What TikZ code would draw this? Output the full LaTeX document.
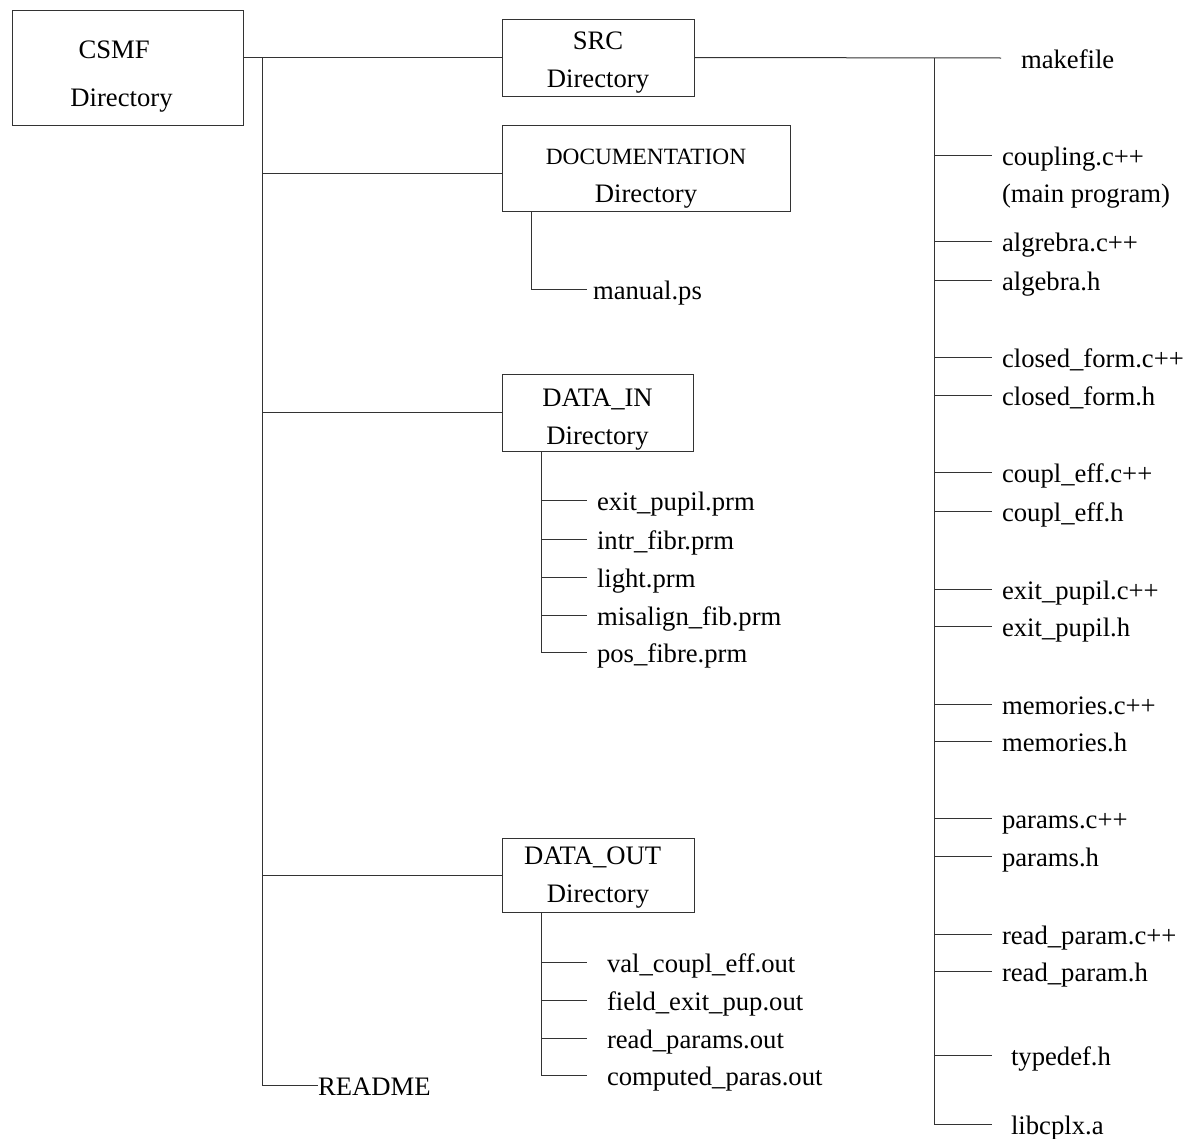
\documentclass[tikz,border=0pt]{standalone}
\usepackage{fontspec}
\setmainfont{Liberation Serif}
\usepackage{tikz}

\begin{document}
\begin{tikzpicture}[x=0.75pt,y=-0.75pt,line width=0.75pt,draw=black!80,
        dirbox/.style={draw,align=center,inner sep=0pt,outer sep=0pt,text depth=0pt,font=\fontsize{20}{28}\selectfont},
        file/.style={anchor=west,inner xsep=7.5pt,inner ysep=0pt,outer sep=0pt,text height=17.4pt,text depth=1.6pt,font=\fontsize{20}{24}\selectfont},
        farfile/.style={file,inner xsep=15pt}]
        \useasboundingbox (0,0) rectangle (1189,1139);

        \node[dirbox,text height=57.75pt,minimum width=173.25pt,minimum height=86.25pt] (csmf) at (127.5,67.5) {CSMF\hspace*{20pt}\\[8pt]Directory\hspace*{9pt}};
        \node[dirbox,text height=44.25pt,minimum width=144pt,minimum height=57.75pt] (src) at (598,57.5) {SRC\\Directory};
        \node[dirbox,text height=51pt,minimum width=216pt,minimum height=64.5pt] (doc) at (646,168) {{\fontsize{17.5}{20}\selectfont DOCUMENTATION}\\Directory};
        \node[dirbox,text height=47.25pt,minimum width=143.25pt,minimum height=57.75pt] (datain) at (597.5,412.5) {DATA\_IN\\Directory};
        \node[dirbox,text height=40.5pt,minimum width=144pt,minimum height=55.5pt] (dataout) at (598,875) {DATA\_OUT\hspace*{8pt}\\Directory};

        \coordinate (trunk) at (262,58);
        \coordinate (srcbus) at (934,58);
        \coordinate (docbus) at (531,211);
        \coordinate (inbus) at (541,451);
        \coordinate (outbus) at (541,912);

        \node[farfile] (makefile) at (1001,58) {makefile};
        \node[file] (coupling) at (992,155) {coupling.c++};
        \node[file] (mainprog) at (992,192) {(main program)};
        \node[file] (algrebrac) at (992,241) {algrebra.c++};
        \node[file] (algebrah) at (992,280) {algebra.h};
        \node[file] (closedc) at (992,357) {closed\_form.c++};
        \node[file] (closedh) at (992,395) {closed\_form.h};
        \node[file] (couplc) at (992,472) {coupl\_eff.c++};
        \node[file] (couplh) at (992,511) {coupl\_eff.h};
        \node[file] (exitc) at (992,589) {exit\_pupil.c++};
        \node[file] (exith) at (992,626) {exit\_pupil.h};
        \node[file] (memc) at (992,704) {memories.c++};
        \node[file] (memh) at (992,741) {memories.h};
        \node[file] (paramc) at (992,818) {params.c++};
        \node[file] (paramh) at (992,856) {params.h};
        \node[file] (readc) at (992,934) {read\_param.c++};
        \node[file] (readh) at (992,971) {read\_param.h};
        \node[file,inner xsep=14.25pt] (typedef) at (992,1055) {typedef.h};
        \node[file,inner xsep=14.25pt] (libcplx) at (992,1124) {libcplx.a};

        \node[file,inner xsep=4.5pt] (manual) at (587,289) {manual.ps};

        \node[file] (exitprm) at (587,500) {exit\_pupil.prm};
        \node[file] (intrprm) at (587,539) {intr\_fibr.prm};
        \node[file] (lightprm) at (587,577) {light.prm};
        \node[file] (misalprm) at (587,615) {misalign\_fib.prm};
        \node[file] (posprm) at (587,652) {pos\_fibre.prm};

        \node[farfile] (valout) at (587,962) {val\_coupl\_eff.out};
        \node[farfile] (fieldout) at (587,1000) {field\_exit\_pup.out};
        \node[farfile] (readout) at (587,1038) {read\_params.out};
        \node[farfile] (compout) at (587,1075) {computed\_paras.out};

        \node[file,inner xsep=0pt] (readme) at (318,1085) {README};

        \draw (csmf.east |- src.west) -- (src.west);
        \draw (trunk) |- ([yshift=-3.75pt]doc.west);
        \draw (trunk) |- (datain.west);
        \draw (trunk) |- (dataout.west);
        \draw (trunk) |- (readme.west);

        \draw (src.east) -- (makefile.west);
        \draw (srcbus) |- (coupling.west);
        \draw (srcbus) |- (algrebrac.west);
        \draw (srcbus) |- (algebrah.west);
        \draw (srcbus) |- (closedc.west);
        \draw (srcbus) |- (closedh.west);
        \draw (srcbus) |- (couplc.west);
        \draw (srcbus) |- (couplh.west);
        \draw (srcbus) |- (exitc.west);
        \draw (srcbus) |- (exith.west);
        \draw (srcbus) |- (memc.west);
        \draw (srcbus) |- (memh.west);
        \draw (srcbus) |- (paramc.west);
        \draw (srcbus) |- (paramh.west);
        \draw (srcbus) |- (readc.west);
        \draw (srcbus) |- (readh.west);
        \draw (srcbus) |- (typedef.west);
        \draw (srcbus) |- (libcplx.west);

        \draw (docbus) |- (manual.west);

        \draw (inbus) |- (exitprm.west);
        \draw (inbus) |- (intrprm.west);
        \draw (inbus) |- (lightprm.west);
        \draw (inbus) |- (misalprm.west);
        \draw (inbus) |- (posprm.west);

        \draw (outbus) |- (valout.west);
        \draw (outbus) |- (fieldout.west);
        \draw (outbus) |- (readout.west);
        \draw (outbus) |- (compout.west);
      \end{tikzpicture}
\end{document}
